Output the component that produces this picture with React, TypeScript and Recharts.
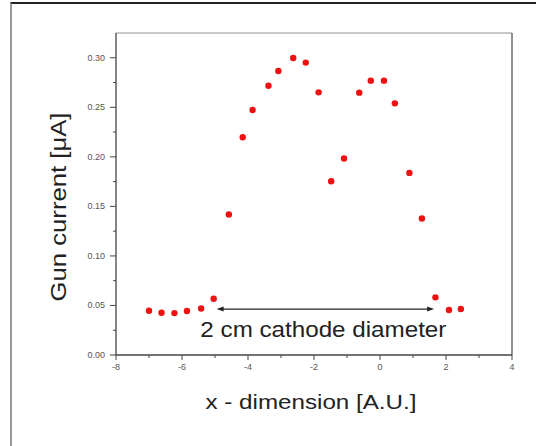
import React from 'react';
import { ScatterChart, Scatter, XAxis, YAxis, ReferenceLine } from 'recharts';

const xPositions = [-7.0, -6.62, -6.23, -5.85, -5.42, -5.04, -4.58, -4.16, -3.86, -3.38, -3.08, -2.63, -2.25, -1.86, -1.48, -1.09, -0.63, -0.28, 0.12, 0.45, 0.89, 1.27, 1.68, 2.09, 2.45];
const gunCurrent = [0.0447, 0.0426, 0.0423, 0.0444, 0.047, 0.0568, 0.1418, 0.2198, 0.2473, 0.2718, 0.2866, 0.2997, 0.2951, 0.2651, 0.1754, 0.1983, 0.2648, 0.2769, 0.2769, 0.254, 0.1838, 0.1378, 0.0582, 0.0454, 0.0464];
const xTicks = [-8, -7, -6, -5, -4, -3, -2, -1, 0, 1, 2, 3, 4];
const xMajor = [-8, -6, -4, -2, 0, 2, 4];
const yTicks = [0, 0.025, 0.05, 0.075, 0.1, 0.125, 0.15, 0.175, 0.2, 0.225, 0.25, 0.275, 0.3];
const yMajor = [0, 0.05, 0.1, 0.15, 0.2, 0.25, 0.3];
const arrowStart = -4.95;
const arrowEnd = 1.64;
const arrowLevel = 0.0464;
const annotation = '2 cm cathode diameter';

const data = xPositions.map((x, i) => ({ x, y: gunCurrent[i] }));

const FONT = '"Liberation Sans", Arial, sans-serif';

const isMajor = (list: number[], v: number) => list.some((m) => Math.abs(m - v) < 1e-6);

const XTick = (props: any) => {
  const { x, y, payload } = props;
  const major = isMajor(xMajor, payload.value);
  return (
    <g>
      <line x1={x} y1={y} x2={x} y2={y + (major ? 5 : 3)} stroke="#444" strokeWidth={1} />
      {major && (
        <text x={x} y={y + 15} textAnchor="middle" fontSize={9} fill="#555" fontFamily={FONT}>
          {String(payload.value)}
        </text>
      )}
    </g>
  );
};

const YTick = (props: any) => {
  const { x, y, payload } = props;
  const major = isMajor(yMajor, payload.value);
  return (
    <g>
      <line x1={x} y1={y} x2={x - (major ? 6 : 3)} y2={y} stroke="#444" strokeWidth={1} />
      {major && (
        <text x={x - 11} y={y + 3} textAnchor="end" fontSize={9} fill="#555" fontFamily={FONT}>
          {payload.value.toFixed(2)}
        </text>
      )}
    </g>
  );
};

const Dot = (props: any) => <circle cx={props.cx} cy={props.cy} r={3.2} fill="#ee1111" />;

const ArrowShape = (props: any) => {
  const { x1, y1, x2, y2 } = props;
  const cx = (x1 + x2) / 2 - 2;
  return (
    <g>
      <line x1={x1 + 4} y1={y1} x2={x2 - 4} y2={y2} stroke="#222" strokeWidth={1.3} />
      <polygon points={`${x1},${y1} ${x1 + 7},${y1 - 2.5} ${x1 + 7},${y1 + 2.5}`} fill="#222" />
      <polygon points={`${x2},${y2} ${x2 - 7},${y2 - 2.5} ${x2 - 7},${y2 + 2.5}`} fill="#222" />
      <text
        x={cx}
        y={y1 + 28}
        textAnchor="middle"
        fontSize={22}
        fill="#222"
        fontFamily={FONT}
        textLength={246}
        lengthAdjust="spacingAndGlyphs"
      >
        {annotation}
      </text>
    </g>
  );
};

export default function App() {
  return (
    <div style={{ position: 'absolute', left: 0, top: 0, width: 536, height: 446, background: '#fff' }}>
      <div
        style={{
          position: 'absolute',
          left: 10,
          top: 2,
          width: 530,
          height: 442,
          borderTop: '2px solid #222',
          borderLeft: '2px solid #999',
          borderBottom: '1px solid #ccc',
        }}
      />
      <div style={{ position: 'absolute', left: 0, top: 0 }}>
        <ScatterChart width={536} height={446} margin={{ top: 33, right: 24, bottom: 0, left: 0 }}>
          <XAxis
            type="number"
            dataKey="x"
            domain={[-8, 4]}
            ticks={xTicks}
            interval={0}
            allowDataOverflow
            height={91}
            tickSize={0}
            tickMargin={0}
            tickLine={false}
            tick={<XTick />}
            axisLine={{ stroke: '#444', strokeWidth: 1.3 }}
          />
          <YAxis
            type="number"
            dataKey="y"
            domain={[0, 0.325]}
            ticks={yTicks}
            interval={0}
            allowDataOverflow
            width={116}
            tickSize={0}
            tickMargin={0}
            tickLine={false}
            tick={<YTick />}
            axisLine={{ stroke: '#444', strokeWidth: 1.3 }}
          />
          <ReferenceLine y={0.325} stroke="#c8c8c8" strokeWidth={2} ifOverflow="visible" />
          <ReferenceLine x={4} stroke="#555" strokeWidth={1.3} ifOverflow="visible" />
          <ReferenceLine
            segment={[{ x: arrowStart, y: arrowLevel }, { x: arrowEnd, y: arrowLevel }]}
            shape={<ArrowShape />}
            ifOverflow="visible"
          />
          <Scatter data={data} shape={<Dot />} isAnimationActive={false} />
        </ScatterChart>
        <svg width={536} height={446} style={{ position: 'absolute', left: 0, top: 0, pointerEvents: 'none' }}>
          <text
            x={0}
            y={0}
            transform="translate(66,207) rotate(-90)"
            textAnchor="middle"
            fontSize={22}
            fill="#222"
            fontFamily={FONT}
            textLength={189}
            lengthAdjust="spacingAndGlyphs"
          >
            Gun current [μA]
          </text>
          <text
            x={311}
            y={408.5}
            textAnchor="middle"
            fontSize={21}
            fill="#222"
            fontFamily={FONT}
            textLength={211}
            lengthAdjust="spacingAndGlyphs"
          >
            x - dimension [A.U.]
          </text>
        </svg>
      </div>
    </div>
  );
}
